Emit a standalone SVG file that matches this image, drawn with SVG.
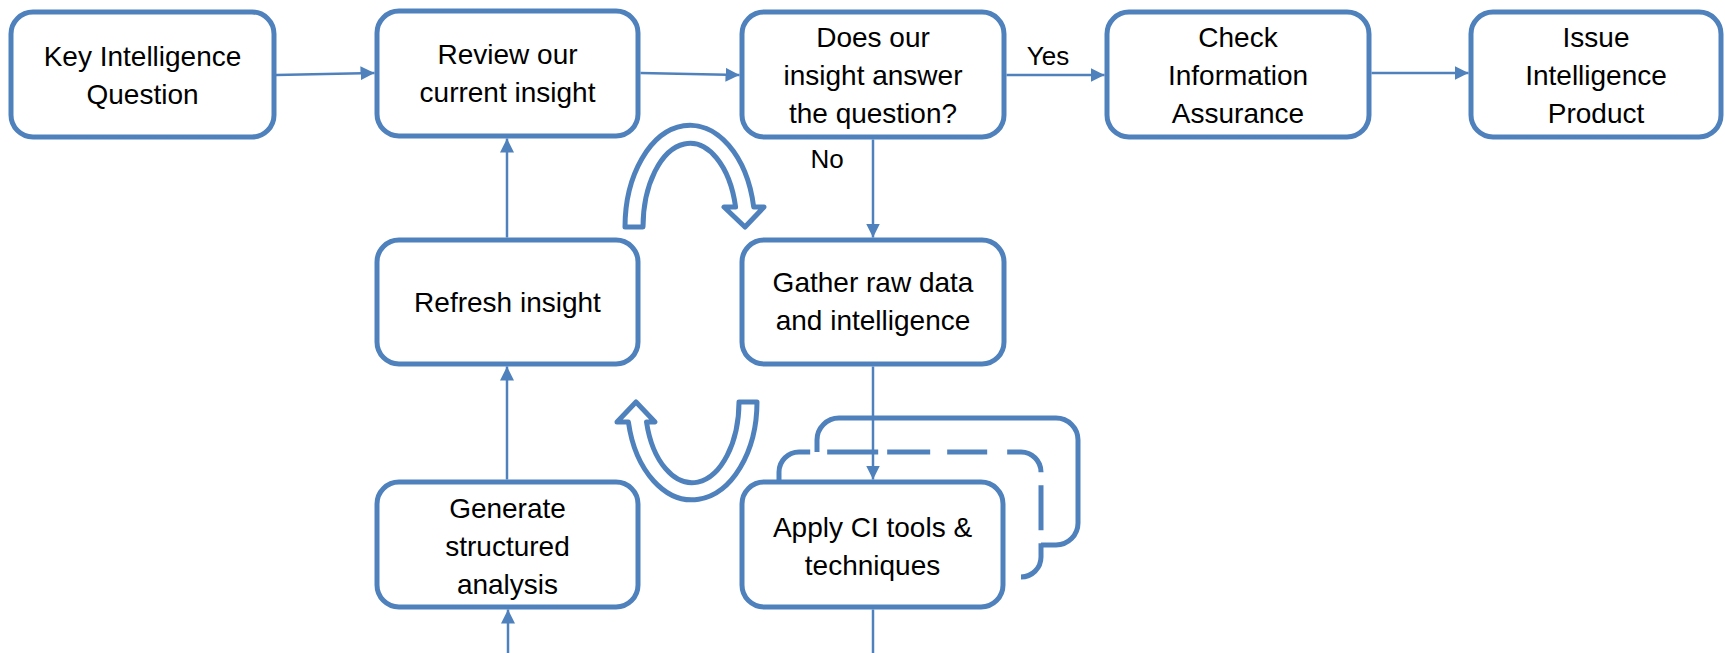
<svg xmlns="http://www.w3.org/2000/svg" width="1725" height="653" viewBox="0 0 1725 653">
<defs>
<style>
.box{fill:#ffffff;stroke:#4F81BD;stroke-width:5}
.lay{fill:none;stroke:#4F81BD;stroke-width:5}
.cv{fill:#ffffff;stroke:#4F81BD;stroke-width:5;stroke-linejoin:round}
.ln{fill:none;stroke:#4F81BD;stroke-width:2.5}
.t{font-family:"Liberation Sans",Arial,sans-serif;font-size:28px;fill:#000000;text-anchor:middle}
.lb{font-family:"Liberation Sans",Arial,sans-serif;font-size:26px;fill:#000000;text-anchor:middle}
</style>
<marker id="ah" markerUnits="userSpaceOnUse" markerWidth="15" markerHeight="15" refX="14" refY="7" orient="auto">
<path d="M0,0 L14,7 L0,14 z" fill="#4F81BD"/>
</marker>
</defs>
<rect width="1725" height="653" fill="#ffffff"/>

<g id="layers">
<path class="lay" d="M817 452 V440 A22 22 0 0 1 839 418 H1056 A22 22 0 0 1 1078 440 V523 A22 22 0 0 1 1056 545 H1041"/>
<path class="lay" stroke-dasharray="52.4 17 51 9 43 17 40 20 45.4 13 45 13 300" d="M779 482 V472 A20 20 0 0 1 799 452 H1021 A20 20 0 0 1 1041 472 V557 A20 20 0 0 1 1021 577"/>
</g>

<g id="curved-arrows">
<path class="cv" d="M625 227 A65 102 0 0 1 753.7 207 L764 207 L745 227 L724 207 L735.6 207 A47 84 0 0 0 643 227 Z"/>
<path class="cv" d="M757 402 A65 98 0 0 1 628.4 422 L617 422 L636 402 L655 422 L646.5 422 A47 81 0 0 0 739 402 Z"/>
</g>

<g id="connectors">
<line class="ln" x1="276" y1="75" x2="374.5" y2="73" marker-end="url(#ah)"/>
<line class="ln" x1="640.5" y1="73" x2="739.5" y2="75" marker-end="url(#ah)"/>
<line class="ln" x1="1006.5" y1="75" x2="1104.5" y2="75" marker-end="url(#ah)"/>
<line class="ln" x1="1371.5" y1="73" x2="1468.5" y2="73" marker-end="url(#ah)"/>
<line class="ln" x1="873" y1="139.5" x2="873" y2="237.5" marker-end="url(#ah)"/>
<line class="ln" x1="873" y1="366.5" x2="873" y2="479.5" marker-end="url(#ah)"/>
<line class="ln" x1="507" y1="237.5" x2="507" y2="138.5" marker-end="url(#ah)"/>
<line class="ln" x1="507" y1="479.5" x2="507" y2="366.5" marker-end="url(#ah)"/>
<line class="ln" x1="508" y1="653" x2="508" y2="609.5" marker-end="url(#ah)"/>
<line class="ln" x1="873" y1="609.5" x2="873" y2="653"/>
<text class="lb" x="1048" y="65">Yes</text>
<text class="lb" x="827" y="168">No</text>
</g>

<g id="kiq">
<rect class="box" x="11" y="12" width="263" height="125" rx="22"/>
<text class="t" x="142.5" y="66">Key Intelligence</text>
<text class="t" x="142.5" y="104">Question</text>
</g>

<g id="review">
<rect class="box" x="377" y="11" width="261" height="125" rx="22"/>
<text class="t" x="507.5" y="64">Review our</text>
<text class="t" x="507.5" y="102">current insight</text>
</g>

<g id="does">
<rect class="box" x="742" y="12" width="262" height="125" rx="22"/>
<text class="t" x="873" y="47">Does our</text>
<text class="t" x="873" y="85">insight answer</text>
<text class="t" x="873" y="123">the question?</text>
</g>

<g id="check">
<rect class="box" x="1107" y="12" width="262" height="125" rx="22"/>
<text class="t" x="1238" y="47">Check</text>
<text class="t" x="1238" y="85">Information</text>
<text class="t" x="1238" y="123">Assurance</text>
</g>

<g id="issue">
<rect class="box" x="1471" y="12" width="250" height="125" rx="22"/>
<text class="t" x="1596" y="47">Issue</text>
<text class="t" x="1596" y="85">Intelligence</text>
<text class="t" x="1596" y="123">Product</text>
</g>

<g id="refresh">
<rect class="box" x="377" y="240" width="261" height="124" rx="22"/>
<text class="t" x="507.5" y="312">Refresh insight</text>
</g>

<g id="gather">
<rect class="box" x="742" y="240" width="262" height="124" rx="22"/>
<text class="t" x="873" y="292">Gather raw data</text>
<text class="t" x="873" y="330">and intelligence</text>
</g>

<g id="generate">
<rect class="box" x="377" y="482" width="261" height="125" rx="22"/>
<text class="t" x="507.5" y="518">Generate</text>
<text class="t" x="507.5" y="556">structured</text>
<text class="t" x="507.5" y="594">analysis</text>
</g>

<g id="apply">
<rect class="box" x="742" y="482" width="261" height="125" rx="22"/>
<text class="t" x="872.5" y="537">Apply CI tools &amp;</text>
<text class="t" x="872.5" y="575">techniques</text>
</g>
</svg>
